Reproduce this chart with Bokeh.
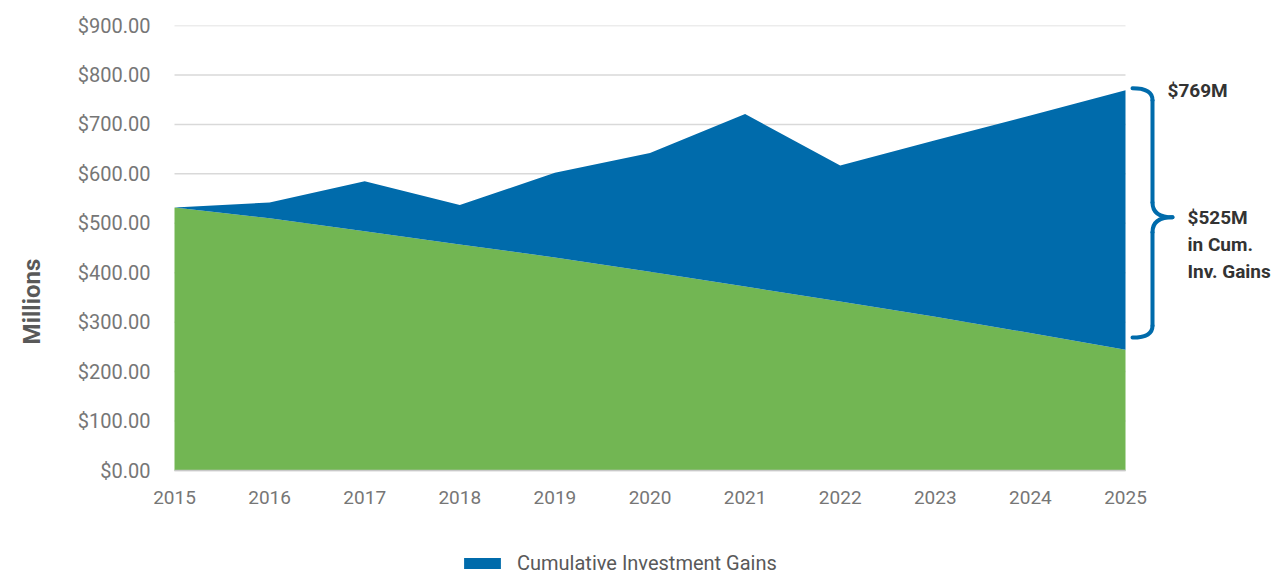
from bokeh.plotting import figure
from bokeh.models import (Range1d, FixedTicker, NumeralTickFormatter, Legend,
                          LegendItem, ColumnDataSource)
from bokeh.core.properties import value
from bokeh.embed import file_html
from bokeh.resources import INLINE

# ---- data (millions) ----
years = [2015, 2016, 2017, 2018, 2019, 2020, 2021, 2022, 2023, 2024, 2025]
total_values = [532, 542, 585, 537, 602, 642, 721, 617, 668, 718, 769]
base_values = [532, 510, 484, 457, 431, 402, 372, 342, 311, 278, 244]
y_ticks = [0, 100, 200, 300, 400, 500, 600, 700, 800, 900]
year_labels = [str(y) for y in years]
series_label = "Cumulative Investment Gains"
top_note = "$769M"
gain_note = ["$525M", "in Cum.", "Inv. Gains"]

# ---- layout constants ----
W, H = 1280, 577
FRAME_LEFT = 150        # screen column where the frame starts (room for the first x label)
DATA_LEFT = 174         # screen column of the first year
TOP = 25
ZERO_Y = 470            # screen row of value 0
PX_PER_YEAR = 95.1
PX_PER_UNIT = (ZERO_Y - TOP) / 900
x_start = years[0] - (DATA_LEFT - FRAME_LEFT) / PX_PER_YEAR
x_end = years[0] + (W - DATA_LEFT) / PX_PER_YEAR
y_start = -(H - ZERO_Y) / PX_PER_UNIT
LEGEND_LEFT = 459

BLUE = "#006BAB"
GREEN = "#72B653"
FONT = "Roboto"
TICK_COLOR = "#767676"

p = figure(width=W, height=H, x_range=Range1d(x_start, x_end), y_range=Range1d(y_start, 900),
           output_backend="svg", toolbar_location=None, x_axis_location=None,
           min_border_left=FRAME_LEFT, min_border_right=0, min_border_top=TOP, min_border_bottom=0)
p.outline_line_color = None
p.grid.visible = False
p.background_fill_color = "white"
p.border_fill_color = "white"

# gridlines limited to data extent
p.segment(x0=[years[0]] * len(y_ticks), y0=y_ticks, x1=[years[-1]] * len(y_ticks), y1=y_ticks,
          line_color="#d9d9d9", line_width=1.5)

src = ColumnDataSource(dict(year=years, total=total_values, base=base_values))
p.varea(x="year", y1=0, y2="base", source=src, fill_color=GREEN)
blue = p.varea(x="year", y1="base", y2="total", source=src, fill_color=BLUE)

# baseline (x axis line)
p.segment(x0=[years[0]], y0=[0], x1=[years[-1]], y1=[0], line_color="#c8c8c8", line_width=1.5)

# x tick labels
p.text(x=years, y=[0] * len(years), text=year_labels, y_offset=27,
       text_font=value(FONT), text_font_size="19px", text_color=TICK_COLOR,
       text_align="center", text_baseline="middle")

# y axis
ya = p.yaxis[0]
ya.ticker = FixedTicker(ticks=y_ticks)
ya.formatter = NumeralTickFormatter(format="$0.00")
ya.axis_line_color = None
ya.major_tick_line_color = None
ya.minor_tick_line_color = None
ya.major_tick_in = 0
ya.major_tick_out = 0
ya.major_label_standoff = DATA_LEFT - FRAME_LEFT - 31 + 31 - 24
ya.major_label_text_font = FONT
ya.major_label_text_font_size = "20px"
ya.major_label_text_color = TICK_COLOR
ya.axis_label = "Millions"
ya.axis_label_text_font = FONT
ya.axis_label_text_font_size = "24px"
ya.axis_label_text_font_style = "bold"
ya.axis_label_text_color = "#595959"
ya.axis_label_standoff = 29

# brace annotation (data coords)
bx0 = years[-1] + 7 / PX_PER_YEAR
bx1 = years[-1] + 27 / PX_PER_YEAR
bx2 = years[-1] + 47 / PX_PER_YEAR
b_top, b_mid, b_bot = 773, 512, 269
r = 24
r2 = 30
bw = 4
p.quadratic(x0=[bx0, bx1, bx2, bx1], y0=[b_top, b_mid + r2, b_mid, b_bot + r],
            x1=[bx1, bx2, bx1, bx0], y1=[b_top - r, b_mid, b_mid - r2, b_bot],
            cx=[bx1, bx1, bx1, bx1], cy=[b_top, b_mid, b_mid, b_bot],
            line_color=BLUE, line_width=bw, line_cap="round")
p.segment(x0=[bx1, bx1], y0=[b_top - r, b_mid - r2], x1=[bx1, bx1], y1=[b_mid + r2, b_bot + r],
          line_color=BLUE, line_width=bw, line_cap="round")

p.text(x=[years[-1] + 42 / PX_PER_YEAR], y=[total_values[-1]], text=[top_note],
       text_font=value(FONT), text_font_style="bold", text_font_size="19px",
       text_color="#333333", text_baseline="middle", text_align="left")
nsrc = ColumnDataSource(dict(x=[years[-1] + 62 / PX_PER_YEAR] * 3, y=[b_mid] * 3,
                             t=gain_note, off=[0, 27, 54]))
p.text(x="x", y="y", text="t", y_offset="off", source=nsrc,
       text_font=value(FONT), text_font_style="bold", text_font_size="19px",
       text_color="#333333", text_baseline="middle", text_align="left")

# legend inside the (extended) frame, below the x labels
legend = Legend(items=[LegendItem(label=series_label, renderers=[blue])],
                location=(LEGEND_LEFT - FRAME_LEFT, 2), orientation="horizontal",
                glyph_width=46, glyph_height=14, label_standoff=12,
                padding=0, margin=0, border_line_color=None, background_fill_alpha=0,
                label_text_font=FONT, label_text_font_size="20px", label_text_color="#595959")
p.add_layout(legend, "center")

open("out.html", "w").write(file_html(p, INLINE))
